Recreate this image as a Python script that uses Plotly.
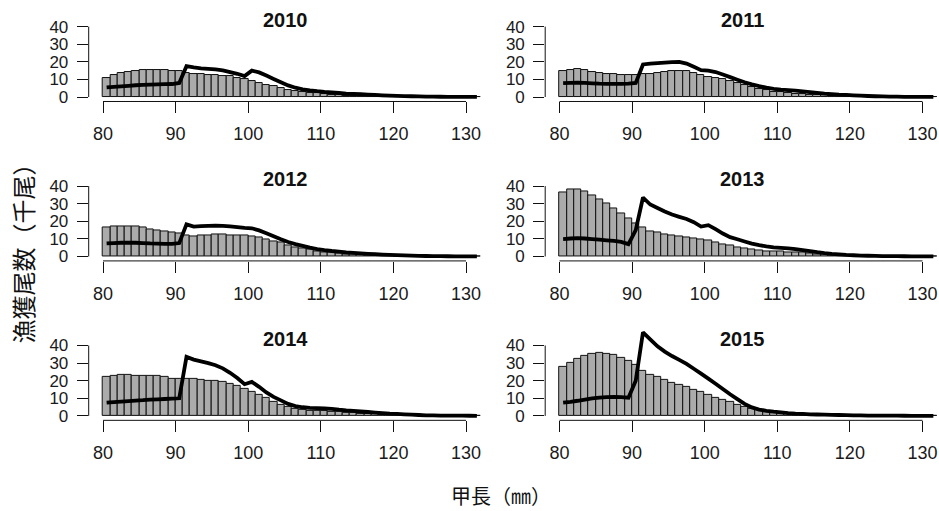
import plotly.graph_objects as go

# Carapace-length classes (mm, lower edge of each 1-mm bin)
length_bins = list(range(80, 132))
years = [2010, 2011, 2012, 2013, 2014, 2015]

# Bars: catch numbers per length class (thousand individuals)
bar_2010 = [11.0, 12.4, 13.4, 14.2, 14.8, 15.2, 15.5, 15.5, 15.3, 15.0,
            14.6, 13.8, 13.2, 12.8, 12.6, 12.4, 12.2, 11.8, 11.0, 10.0,
            9.0, 8.0, 7.0, 6.0, 5.0, 4.2, 3.5, 2.9, 2.4, 2.0,
            1.6, 1.3, 1.0, 0.8, 0.6, 0.5, 0.4, 0.3, 0.25, 0.2,
            0.15, 0.12, 0.1, 0.08, 0.06, 0.05, 0.04, 0.03, 0.03, 0.02,
            0.02, 0.02]
bar_2011 = [14.5, 15.5, 15.7, 15.1, 14.2, 13.6, 13.2, 12.8, 12.6, 12.6,
            12.6, 12.8, 13.2, 13.8, 14.2, 14.5, 14.9, 14.7, 13.6, 12.5,
            11.5, 10.8, 10.0, 8.9, 7.7, 6.6, 5.5, 4.5, 3.8, 3.0,
            2.6, 2.3, 1.9, 1.6, 1.3, 1.1, 0.9, 0.7, 0.55, 0.45,
            0.35, 0.28, 0.22, 0.15, 0.12, 0.1, 0.08, 0.06, 0.05, 0.04,
            0.03, 0.03]
bar_2012 = [16.4, 16.9, 17.1, 17.3, 17.1, 16.4, 15.6, 14.9, 14.1, 13.6,
            13.2, 11.9, 11.3, 11.7, 12.1, 12.3, 12.3, 12.1, 11.9, 11.7,
            11.3, 10.6, 9.7, 8.7, 7.8, 6.5, 5.4, 4.6, 3.7, 3.0,
            2.4, 2.0, 1.7, 1.4, 1.1, 0.9, 0.7, 0.55, 0.45, 0.35,
            0.28, 0.22, 0.17, 0.13, 0.1, 0.08, 0.06, 0.05, 0.04, 0.03,
            0.03, 0.02]
bar_2013 = [36.1, 37.8, 38.3, 36.7, 34.6, 32.6, 30.3, 27.5, 24.7, 21.8,
            18.8, 16.2, 14.3, 13.4, 12.5, 11.7, 11.3, 11.0, 10.2, 9.5,
            8.9, 8.0, 7.1, 6.0, 5.0, 4.5, 3.9, 3.3, 3.0, 2.8,
            2.6, 2.4, 2.2, 2.0, 1.6, 1.2, 0.9, 0.7, 0.5, 0.4,
            0.3, 0.22, 0.17, 0.13, 0.1, 0.08, 0.06, 0.05, 0.04, 0.03,
            0.03, 0.02]
bar_2014 = [22.2, 22.9, 23.3, 23.3, 22.9, 22.5, 22.5, 22.7, 22.2, 21.2,
            21.0, 21.2, 21.0, 20.5, 20.1, 19.7, 19.3, 18.4, 16.9, 15.4,
            13.7, 11.8, 10.0, 8.1, 6.4, 5.1, 4.1, 3.4, 3.0, 2.8,
            2.6, 2.4, 2.2, 1.9, 1.6, 1.4, 1.2, 1.0, 0.8, 0.6,
            0.5, 0.4, 0.3, 0.22, 0.17, 0.13, 0.1, 0.08, 0.06, 0.05,
            0.04, 0.03]
bar_2015 = [27.8, 30.4, 32.5, 34.2, 35.3, 35.7, 35.5, 34.7, 32.7, 31.2,
            28.7, 25.7, 23.5, 22.0, 20.3, 18.8, 17.5, 16.3, 15.0, 13.5,
            11.8, 10.3, 9.0, 7.7, 6.4, 5.3, 4.1, 3.2, 2.4, 2.1,
            1.7, 1.4, 1.1, 0.9, 0.7, 0.55, 0.45, 0.35, 0.28, 0.22,
            0.17, 0.13, 0.1, 0.08, 0.06, 0.05, 0.04, 0.03, 0.03, 0.02,
            0.02, 0.02]

# Lines: second catch series per length class (thousand individuals)
line_2010 = [5.5, 5.8, 6.1, 6.4, 6.7, 6.9, 7.1, 7.2, 7.3, 7.4,
             8.0, 17.5, 16.8, 16.3, 16.0, 15.7, 15.2, 14.2, 13.2, 11.9,
             15.0, 14.0, 12.2, 10.3, 8.4, 6.6, 5.3, 4.4, 3.8, 3.3,
             2.9, 2.6, 2.3, 2.0, 1.8, 1.6, 1.4, 1.2, 1.0, 0.85,
             0.7, 0.55, 0.45, 0.35, 0.28, 0.22, 0.17, 0.13, 0.1, 0.08,
             0.06, 0.05]
line_2011 = [7.9, 8.1, 8.2, 8.0, 7.8, 7.6, 7.5, 7.5, 7.5, 7.6,
             8.0, 18.5, 19.0, 19.3, 19.6, 19.8, 20.0, 19.0, 17.2, 15.3,
             15.0, 14.2, 12.8, 11.3, 9.8, 8.4, 7.2, 6.2, 5.3, 4.6,
             4.2, 3.9, 3.6, 3.2, 2.8, 2.4, 2.0, 1.7, 1.4, 1.2,
             1.0, 0.8, 0.6, 0.45, 0.35, 0.27, 0.2, 0.15, 0.12, 0.1,
             0.08, 0.06]
line_2012 = [7.4, 7.6, 7.8, 7.9, 7.8, 7.6, 7.4, 7.3, 7.2, 7.2,
             7.6, 18.2, 17.0, 17.2, 17.4, 17.5, 17.4, 17.1, 16.7, 16.2,
             16.0, 14.8, 13.2, 11.5, 9.8, 8.2, 7.0, 6.0, 5.0, 4.2,
             3.6, 3.1, 2.7, 2.3, 2.0, 1.7, 1.5, 1.3, 1.1, 0.9,
             0.75, 0.6, 0.45, 0.35, 0.27, 0.2, 0.15, 0.12, 0.1, 0.08,
             0.06, 0.05]
line_2013 = [9.9, 10.2, 10.4, 10.2, 9.9, 9.6, 9.2, 8.8, 8.3, 7.0,
             15.0, 33.5, 29.5, 27.5, 25.5, 23.8, 22.5, 21.3, 19.5, 17.0,
             17.8, 15.5, 13.0, 11.0, 9.8, 8.5, 7.3, 6.4, 5.7, 5.2,
             4.9, 4.6, 4.2, 3.6, 3.0, 2.4, 1.9, 1.5, 1.2, 0.9,
             0.7, 0.5, 0.4, 0.3, 0.25, 0.2, 0.15, 0.12, 0.1, 0.08,
             0.06, 0.05]
line_2014 = [7.5, 7.8, 8.1, 8.4, 8.7, 8.9, 9.2, 9.4, 9.6, 9.8,
             10.0, 33.5, 32.0, 31.0, 30.0, 28.8, 27.0, 24.5, 21.5, 18.0,
             19.3, 16.5, 13.3, 10.8, 8.8, 6.8, 5.6, 4.9, 4.6, 4.4,
             4.2, 4.0, 3.5, 3.1, 2.8, 2.5, 2.2, 1.9, 1.6, 1.3,
             1.1, 0.9, 0.7, 0.5, 0.35, 0.25, 0.2, 0.15, 0.12, 0.1,
             0.08, 0.06]
line_2015 = [7.5, 8.0, 8.6, 9.3, 9.9, 10.4, 10.7, 10.8, 10.7, 10.3,
             20.0, 47.5, 43.5, 39.5, 36.5, 34.0, 31.8, 29.5, 26.8, 24.0,
             21.2, 18.3, 15.3, 12.3, 9.5, 6.8, 4.8, 3.6, 2.9, 2.4,
             2.0, 1.6, 1.3, 1.1, 0.9, 0.8, 0.7, 0.6, 0.5, 0.4,
             0.3, 0.25, 0.2, 0.17, 0.14, 0.12, 0.1, 0.08, 0.06, 0.05,
             0.04, 0.03]

bars = [bar_2010, bar_2011, bar_2012, bar_2013, bar_2014, bar_2015]
lines = [line_2010, line_2011, line_2012, line_2013, line_2014, line_2015]

x_ticks = [80, 90, 100, 110, 120, 130]
y_ticks = [0, 10, 20, 30, 40]

W, H = 939, 511
FONT = "Liberation Sans, Arial, Helvetica, sans-serif"
CJK = "Noto Sans CJK JP, Noto Sans CJK SC, sans-serif"

# Panel geometry (pixels)
X_RANGE = [78.03, 132.25]
Y_RANGE = [-2.53, 50.0]
PX_PER_MM = 7.26
PX_PER_UNIT = 1.7775
col_left_px = [88.7, 545.2]
row_zero_px = [98.0, 259.0, 420.0]


def py(v):
    return 1.0 - v / H


def px(v):
    return v / W


fig = go.Figure()
layout = dict(
    width=W, height=H,
    margin=dict(l=0, r=0, t=0, b=0),
    paper_bgcolor="white", plot_bgcolor="white",
    showlegend=False, bargap=0,
    font=dict(family=FONT, size=18, color="#1a1a1a"),
)
shapes = []
annotations = []

for i, yr in enumerate(years):
    row, col = divmod(i, 2)
    n = i + 1
    xa = "x" if n == 1 else f"x{n}"
    ya = "y" if n == 1 else f"y{n}"
    left = col_left_px[col]
    right = left + (X_RANGE[1] - X_RANGE[0]) * PX_PER_MM
    right = min(right, W - 0.2)
    zero = row_zero_px[row]
    top = zero - Y_RANGE[1] * PX_PER_UNIT
    bottom = zero - Y_RANGE[0] * PX_PER_UNIT

    centers = [b + 0.5 for b in length_bins]
    fig.add_trace(go.Bar(
        x=centers, y=bars[i], width=1.0,
        marker=dict(color="#ababab", line=dict(color="#111111", width=1)),
        xaxis=xa, yaxis=ya, hoverinfo="skip",
    ))
    fig.add_trace(go.Scatter(
        x=centers, y=lines[i], mode="lines",
        line=dict(color="black", width=3.8, simplify=False),
        xaxis=xa, yaxis=ya, hoverinfo="skip",
    ))

    layout["xaxis" if n == 1 else f"xaxis{n}"] = dict(
        domain=[px(left), px(right)], range=X_RANGE, anchor=ya,
        showgrid=False, zeroline=False, showline=False,
        ticks="outside", ticklen=11, tickwidth=1, tickcolor="#111111",
        tickvals=x_ticks, ticklabelstandoff=5,
        tickfont=dict(family=FONT, size=18, color="#1a1a1a"),
        fixedrange=True,
    )
    layout["yaxis" if n == 1 else f"yaxis{n}"] = dict(
        domain=[py(bottom), py(top)], range=Y_RANGE, anchor=xa,
        showgrid=False, zeroline=False, showline=False,
        ticks="outside", ticklen=11, tickwidth=1, tickcolor="#111111",
        tickvals=y_ticks, ticklabelstandoff=5,
        tickfont=dict(family=FONT, size=17, color="#1a1a1a"),
        fixedrange=True,
    )

    # axis lines spanning only the tick range
    shapes.append(dict(type="line", xref=xa, yref="paper",
                       x0=x_ticks[0], x1=x_ticks[-1],
                       y0=py(bottom), y1=py(bottom),
                       line=dict(color="#111111", width=1)))
    shapes.append(dict(type="line", xref="paper", yref=ya,
                       x0=px(left), x1=px(left),
                       y0=y_ticks[0], y1=y_ticks[-1],
                       line=dict(color="#111111", width=1)))

    annotations.append(dict(
        text=f"<b>{yr}</b>", xref="paper", yref="paper",
        x=px((left + right) / 2 if col == 0 else 742.0), y=py(zero - 78.0),
        xanchor="center", yanchor="middle", showarrow=False,
        font=dict(family=FONT, size=20, color="#111111"),
    ))

annotations.append(dict(
    text="漁獲尾数（千尾）", xref="paper", yref="paper",
    x=px(23), y=py(250), xanchor="center", yanchor="middle",
    textangle=-90, showarrow=False,
    font=dict(family=CJK, size=24, color="#111111"),
))
annotations.append(dict(
    text="甲長（㎜）", xref="paper", yref="paper",
    x=px(501), y=py(500), xanchor="center", yanchor="middle",
    showarrow=False,
    font=dict(family=CJK, size=20, color="#111111"),
))

layout["shapes"] = shapes
layout["annotations"] = annotations
fig.update_layout(**layout)
fig.write_html("out.html")
